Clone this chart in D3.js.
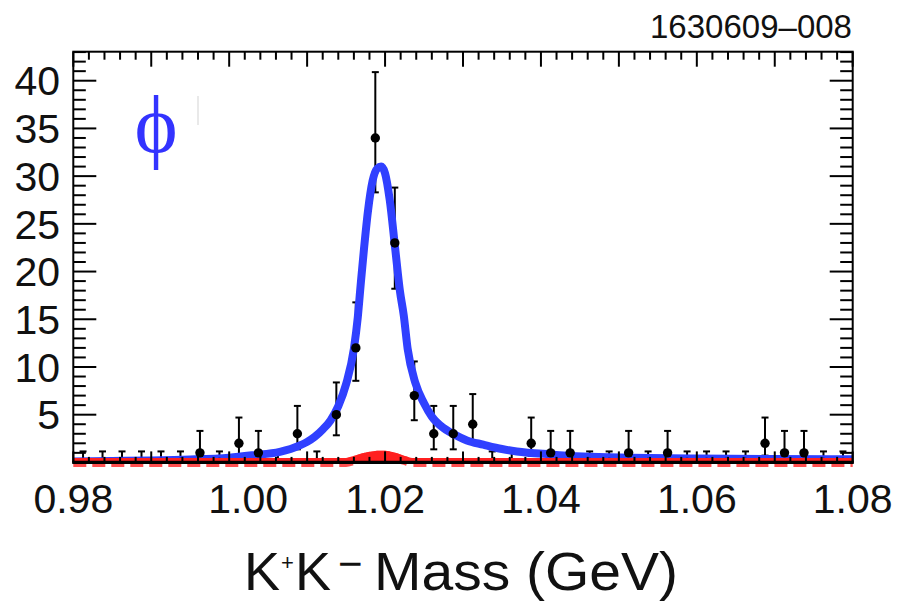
<!DOCTYPE html>
<html><head><meta charset="utf-8">
<script src="https://cdn.jsdelivr.net/npm/d3@7/dist/d3.min.js"></script>
<style>body{margin:0;background:#fff}svg{display:block}</style>
</head><body>
<svg id="chart" width="901" height="602"></svg>
<script>
// ---------- data ----------
const massBins = [0.98125,0.98375,0.98625,0.98875,0.99125,0.99375,0.99625,0.99875,
  1.00125,1.00375,1.00625,1.00875,1.01125,1.01375,1.01625,1.01875,1.02125,1.02375,
  1.02625,1.02875,1.03125,1.03375,1.03625,1.03875,1.04125,1.04375,1.04625,1.04875,
  1.05125,1.05375,1.05625,1.05875,1.06125,1.06375,1.06625,1.06875,1.07125,1.07375,
  1.07625,1.07875];
const counts = [0,0,0,0,0,0,1,0,2,1,0,3,0,5,12,34,23,7,3,3,4,0,0,2,1,1,0,0,1,0,1,0,0,0,0,2,1,1,0,0];
const errLow = [0,0,0,0,0,0,0.17,0,0.71,0.17,0,1.37,0,2.84,8.55,28.3,18.2,4.42,1.37,1.37,2.09,0,0,0.71,0.17,0.17,0,0,0.17,0,0.17,0,0,0,0,0.71,0.17,0.17,0,0];
const errHigh = [1.15,1.15,1.15,1.15,1.15,1.15,3.3,1.15,4.7,3.3,1.15,5.92,1.15,8.38,16.77,40.9,28.8,10.58,5.92,5.92,7.16,1.15,1.15,4.7,3.3,3.3,1.15,1.15,3.3,1.15,3.3,1.15,1.15,1.15,1.15,4.7,3.3,3.3,1.15,1.15];

const fitMass = [0.980,0.985,0.990,0.995,1.000,1.003,1.0065,1.009,1.010,1.011,1.012,1.013,1.014,1.015,1.016,1.0165,1.0169,1.0173,1.0178,1.0184,1.0190,1.0195,1.0200,1.0206,1.0213,1.0219,1.0224,1.0229,1.0239,1.0250,1.0260,1.0275,1.0285,1.0305,1.0326,1.0350,1.0369,1.0412,1.0454,1.0515,1.060,1.070,1.080];
const fitTotal = [0.1,0.15,0.2,0.3,0.5,0.75,1.1,1.75,2.15,2.7,3.45,4.4,5.9,8.2,11.9,15.2,18.9,22.4,26.3,29.5,30.8,31.0,30.3,27.5,22.4,18.0,15.4,11.9,8.3,6.2,4.8,3.6,3.1,2.3,1.86,1.4,1.15,0.84,0.62,0.49,0.4,0.35,0.32];

const bgMass = [0.980,1.014,1.0150,1.0160,1.0175,1.0190,1.0200,1.0212,1.0225,1.0235,1.080];
const bgValues = [0,0,0,0.2,0.55,0.75,0.75,0.55,0.2,0,0];

const xTickValues = [0.98,1.00,1.02,1.04,1.06,1.08];
const xTickLabels = ["0.98","1.00","1.02","1.04","1.06","1.08"];
const yTickValues = [5,10,15,20,25,30,35,40];
const xTitleParts = ["K","+","K","\u2212","Mass (GeV)"];
const figureId = "1630609\u2013008";
const resonanceLabel = "\u03D5";

// ---------- layout ----------
const L = 73.3, R = 852.7, T = 51.7, B = 462.4;
const svg = d3.select("#chart");
const x = d3.scaleLinear().domain([0.98, 1.08]).range([L, R]);
const y = d3.scaleLinear().domain([0, 43.04]).range([B, T]);
const blue = "#3040ff";

svg.append("defs").append("clipPath").attr("id","plotClip")
  .append("rect").attr("x",L).attr("y",T).attr("width",R-L).attr("height",B-T);

const bins = massBins.map((m,i)=>({m, n:counts[i], lo:errLow[i], hi:errHigh[i]}));

// error bars
const eb = svg.append("g").attr("stroke","#000").attr("stroke-width",2).attr("fill","none");
eb.selectAll("line.v").data(bins).join("line").attr("class","v")
  .attr("x1",d=>x(d.m)).attr("x2",d=>x(d.m)).attr("y1",d=>y(d.lo)).attr("y2",d=>y(d.hi));
eb.selectAll("line.ct").data(bins).join("line").attr("class","ct")
  .attr("x1",d=>x(d.m)-3.5).attr("x2",d=>x(d.m)+3.5).attr("y1",d=>y(d.hi)).attr("y2",d=>y(d.hi));
eb.selectAll("line.cb").data(bins.filter(d=>d.n>0)).join("line").attr("class","cb")
  .attr("x1",d=>x(d.m)-3.5).attr("x2",d=>x(d.m)+3.5).attr("y1",d=>y(d.lo)).attr("y2",d=>y(d.lo));

// fit curve
const fitLine = d3.line().x(d=>x(d[0])).y(d=>y(d[1])).curve(d3.curveMonotoneX);
svg.append("path").attr("clip-path","url(#plotClip)")
  .datum(fitMass.map((m,i)=>[m,fitTotal[i]]))
  .attr("d",fitLine).attr("fill","none").attr("stroke",blue).attr("stroke-width",8)
  .attr("stroke-linejoin","round");

// markers
svg.append("g").attr("clip-path","url(#plotClip)")
  .selectAll("circle").data(bins).join("circle")
  .attr("cx",d=>x(d.m)).attr("cy",d=>y(d.n)).attr("r",4.7).attr("fill","#000");

// background component (red)
const bgData = bgMass.map((m,i)=>[m,bgValues[i]]);
const bgArea = d3.area().x(d=>x(d[0])).y0(y(0)).y1(d=>y(d[1])).curve(d3.curveMonotoneX);
svg.append("path").attr("clip-path","url(#plotClip)").datum(bgData)
  .attr("d",bgArea).attr("fill","#ff1a1a");
svg.append("path").datum(bgData).attr("d",fitLine)
  .attr("fill","none").attr("stroke","#ff3030").attr("stroke-opacity",0.85).attr("stroke-width",9)
  .attr("stroke-dasharray","13,6");
svg.append("path").attr("clip-path","url(#plotClip)").datum(bgData).attr("d",fitLine)
  .attr("fill","none").attr("stroke","#ff2020").attr("stroke-width",9);

// ---------- axes / frame ----------
const ax = svg.append("g").attr("stroke","#000").attr("fill","none");
ax.append("rect").attr("x",L).attr("y",T).attr("width",R-L).attr("height",B-T).attr("stroke-width",2);
ax.append("line").attr("x1",L-1).attr("x2",R+1).attr("y1",B).attr("y2",B).attr("stroke-width",3.3);

const xMinor = d3.range(0, 51).map(k => 0.98 + k*0.002);
const yMinor = d3.range(1, 44).filter(v => v <= 43.04);
const isXMajor = v => Math.abs(v*100 - Math.round(v*100)) < 1e-6;
ax.selectAll("line.tt").data(xMinor).join("line").attr("class","tt").attr("stroke-width",2)
  .attr("x1",d=>x(d)).attr("x2",d=>x(d)).attr("y1",T).attr("y2",d=>T+(isXMajor(d)?15:8));
ax.selectAll("line.bt").data(xMinor).join("line").attr("class","bt").attr("stroke-width",2)
  .attr("x1",d=>x(d)).attr("x2",d=>x(d)).attr("y1",B).attr("y2",d=>B-(isXMajor(d)?11:5.5));
ax.selectAll("line.lt").data(yMinor).join("line").attr("class","lt").attr("stroke-width",2)
  .attr("y1",d=>y(d)).attr("y2",d=>y(d)).attr("x1",L).attr("x2",d=>L+(d%5===0?23:12.5));
ax.selectAll("line.rt").data(yMinor).join("line").attr("class","rt").attr("stroke-width",2)
  .attr("y1",d=>y(d)).attr("y2",d=>y(d)).attr("x1",R).attr("x2",d=>R-(d%5===0?23:12.5));

// tick labels
const lab = svg.append("g").attr("font-family","'Liberation Sans', Arial, Helvetica, sans-serif").attr("fill","#111");
lab.selectAll("text.xl").data(xTickValues).join("text").attr("class","xl")
  .attr("x",d=>x(d)).attr("y",513).attr("text-anchor","middle").attr("font-size",41)
  .attr("dx",(d,i)=> xTickLabels[i]==="1.00" ? 19 : 0)
  .text((d,i)=>xTickLabels[i]);
lab.selectAll("text.yl").data(yTickValues).join("text").attr("class","yl")
  .attr("x",60).attr("y",d=>y(d)).attr("dy","0.36em").attr("text-anchor","end").attr("font-size",41)
  .text(d=>d);

// x-axis title
const tt = svg.append("g").attr("font-family","'Liberation Sans', Arial, Helvetica, sans-serif").attr("fill","#111");
tt.append("text").attr("x",244).attr("y",590).attr("font-size",54).text(xTitleParts[0]);
tt.append("text").attr("x",281).attr("y",570).attr("font-size",22).text(xTitleParts[1]);
tt.append("text").attr("x",295).attr("y",590).attr("font-size",54).text(xTitleParts[2]);
tt.append("text").attr("x",338).attr("y",578).attr("font-size",42).text(xTitleParts[3]);
tt.append("text").attr("x",374).attr("y",590).attr("font-size",54)
  .attr("textLength",304).attr("lengthAdjust","spacingAndGlyphs").text(xTitleParts[4]);

// figure id
svg.append("text").attr("x",852).attr("y",38).attr("text-anchor","end")
  .attr("font-family","'Liberation Sans', Arial, sans-serif").attr("font-size",34)
  .attr("textLength",202).attr("lengthAdjust","spacingAndGlyphs").attr("fill","#111")
  .text(figureId);

// resonance label
svg.append("text").attr("x",156).attr("y",152).attr("text-anchor","middle")
  .attr("font-family","'Liberation Serif', 'DejaVu Serif', serif").attr("font-size",82)
  .attr("fill","#3333ff").text(resonanceLabel);
svg.append("line").attr("x1",198).attr("x2",198).attr("y1",96).attr("y2",125)
  .attr("stroke","#e2e2e2").attr("stroke-width",1.5);
</script>
</body></html>
